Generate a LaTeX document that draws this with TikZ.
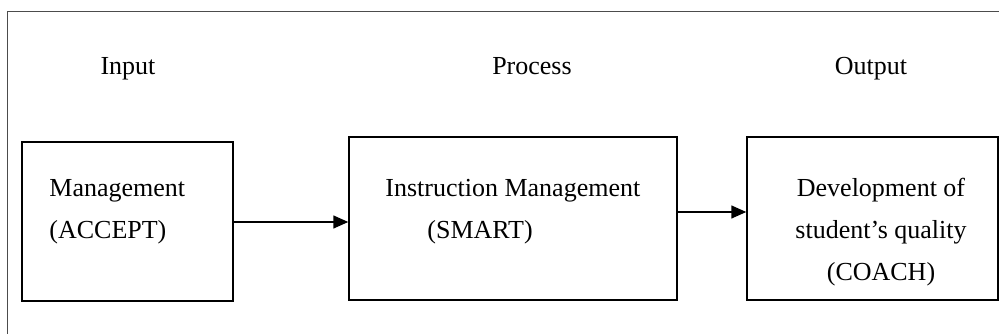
\documentclass[tikz,border=0pt]{standalone}
\usepackage{fontspec}
\setmainfont{Liberation Serif}
\usetikzlibrary{arrows.meta}

\begin{document}
\begin{tikzpicture}[x=0.5pt,y=-0.5pt,
    box/.style={draw,line width=0.75pt,inner sep=0pt},
    txt/.style={inner sep=0pt,font=\fontsize{13}{21}\selectfont},
    arr/.style={-{Triangle[length=7.5pt,width=6.5pt]},line width=0.75pt}]
      \useasboundingbox (0,0) rectangle (999,335);
      \draw[line width=0.6pt,black!70] (7.5,334) |- (999,11.5);
      \node[txt,anchor=base] at (128,75) (ti){Input};
      \node[txt,anchor=base] at (532,75) (tp){Process};
      \node[txt,anchor=base] at (871,75) (to){Output};
      \node[box,minimum width=105.5pt,minimum height=79.5pt] at (127.5,221.5) (a){};
      \node[box,minimum width=164pt,minimum height=81.5pt] at (513,218.5) (b){};
      \node[box,minimum width=125.5pt,minimum height=81.5pt] at (872.5,218.5) (c){};
      \node[txt,anchor=west,align=left] at (49,212) (ta){Management\\(ACCEPT)};
      \node[txt,anchor=west,align=left] at (385,212) (tb){Instruction Management\\\hspace*{21pt}(SMART)};
      \node[txt,align=center] at (881,232) (tc){Development of\\student’s quality\\(COACH)};
      \draw[arr] (a.east |- 0,222) -- (b.west |- 0,222);
      \draw[arr] (b.east |- 0,212) -- (c.west |- 0,212);
    \end{tikzpicture}
\end{document}
